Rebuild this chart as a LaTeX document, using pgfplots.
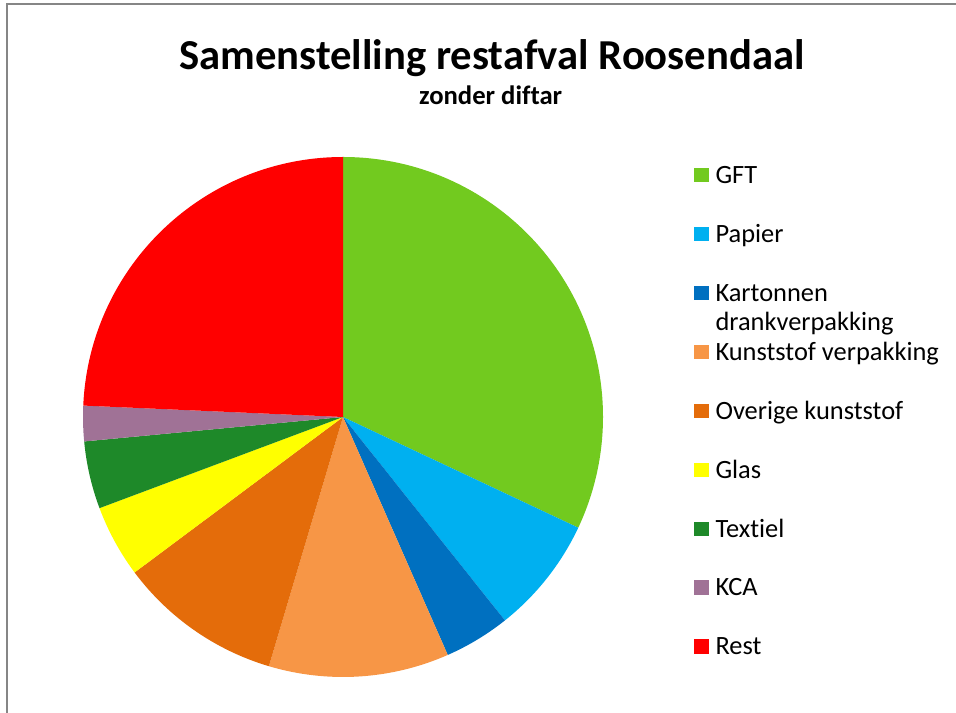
\documentclass[border=0pt]{standalone}
\usepackage{fontspec}
\setmainfont{Carlito}[Ligatures={NoCommon}]
\usepackage{pgfplots}
\usepackage{pgfplotstable}
\pgfplotsset{compat=1.18}
\definecolor{cGFT}{RGB}{114,202,31}
\definecolor{cPapier}{RGB}{0,176,240}
\definecolor{cKarton}{RGB}{0,112,192}
\definecolor{cKunst}{RGB}{247,150,70}
\definecolor{cOverig}{RGB}{228,108,10}
\definecolor{cGlas}{RGB}{255,255,0}
\definecolor{cTextiel}{RGB}{30,137,41}
\definecolor{cKCA}{RGB}{160,114,150}
\definecolor{cRest}{RGB}{255,0,0}
\definecolor{frame}{RGB}{134,134,134}
\pgfplotstableread[col sep=comma]{
label,value,col
GFT,32.0,cGFT
Papier,7.3,cPapier
Kartonnen drankverpakking,4.1,cKarton
Kunststof verpakking,11.2,cKunst
Overige kunststof,10.2,cOverig
Glas,4.5,cGlas
Textiel,4.2,cTextiel
KCA,2.2,cKCA
Rest,24.3,cRest
}\piedata
\pgfplotsset{sq/.style={legend image code/.code={\fill[#1] (0pt,-4.6pt) rectangle (10.5pt,5.4pt);}}}
\begin{document}
\begin{tikzpicture}
\useasboundingbox (0,0) rectangle (717pt,534.75pt);
\draw[frame, line width=1.2pt] (5.25pt,0) -- (5.25pt,531.75pt) -- (717pt,531.75pt);
\node[anchor=base, font=\fontsize{32}{38}\selectfont\bfseries] at (369pt,482.25pt) {Samenstelling restafval Roosendaal};
\node[anchor=base, font=\fontsize{20}{24}\selectfont\bfseries] at (368pt,456pt) {zonder diftar};
\begin{axis}[
  at={(62.25pt,27pt)}, anchor=south west,
  scale only axis, width=390pt, height=390pt,
  xmin=-1, xmax=1, ymin=-1, ymax=1,
  hide axis, clip=false,
  legend cell align=left,
  legend style={at={(1.175,0.980)}, anchor=north west, draw=none, fill=none,
    inner sep=0pt, outer sep=0pt, row sep=32.2pt, column sep=5.25pt,
    font=\fontsize{19.8}{21.75}\selectfont,
    nodes={inner sep=0pt, outer sep=0pt, text height=12pt, text depth=0pt}},
]
\def\cum{0}
\pgfplotsforeachungrouped \i in {0,...,8}{%
  \pgfplotstablegetelem{\i}{value}\of\piedata \let\wv=\pgfplotsretval
  \pgfplotstablegetelem{\i}{col}\of\piedata \let\wc=\pgfplotsretval
  \pgfmathsetmacro\wa{90-3.6*\cum}%
  \pgfmathsetmacro\cum{\cum+\wv}%
  \pgfmathsetmacro\wb{90-3.6*\cum}%
  \edef\temp{\noexpand\fill[\wc] (axis cs:0,0) -- (axis cs:{cos(\wa)},{sin(\wa)}) arc[start angle=\wa, end angle=\wb, radius=195pt] -- cycle;}%
  \temp
}
\addlegendimage{sq=cGFT}\addlegendentry{GFT}
\addlegendimage{sq=cPapier}\addlegendentry{Papier}
\addlegendimage{sq=cKarton}\addlegendentry{\vtop{\hbox{Kartonnen}\hbox{drankverpakking}}}
\addlegendimage{sq=cKunst}\addlegendentry{Kunststof verpakking}
\addlegendimage{sq=cOverig}\addlegendentry{Overige kunststof}
\addlegendimage{sq=cGlas}\addlegendentry{Glas}
\addlegendimage{sq=cTextiel}\addlegendentry{Textiel}
\addlegendimage{sq=cKCA}\addlegendentry{KCA}
\addlegendimage{sq=cRest}\addlegendentry{Rest}
\end{axis}
\end{tikzpicture}
\end{document}
